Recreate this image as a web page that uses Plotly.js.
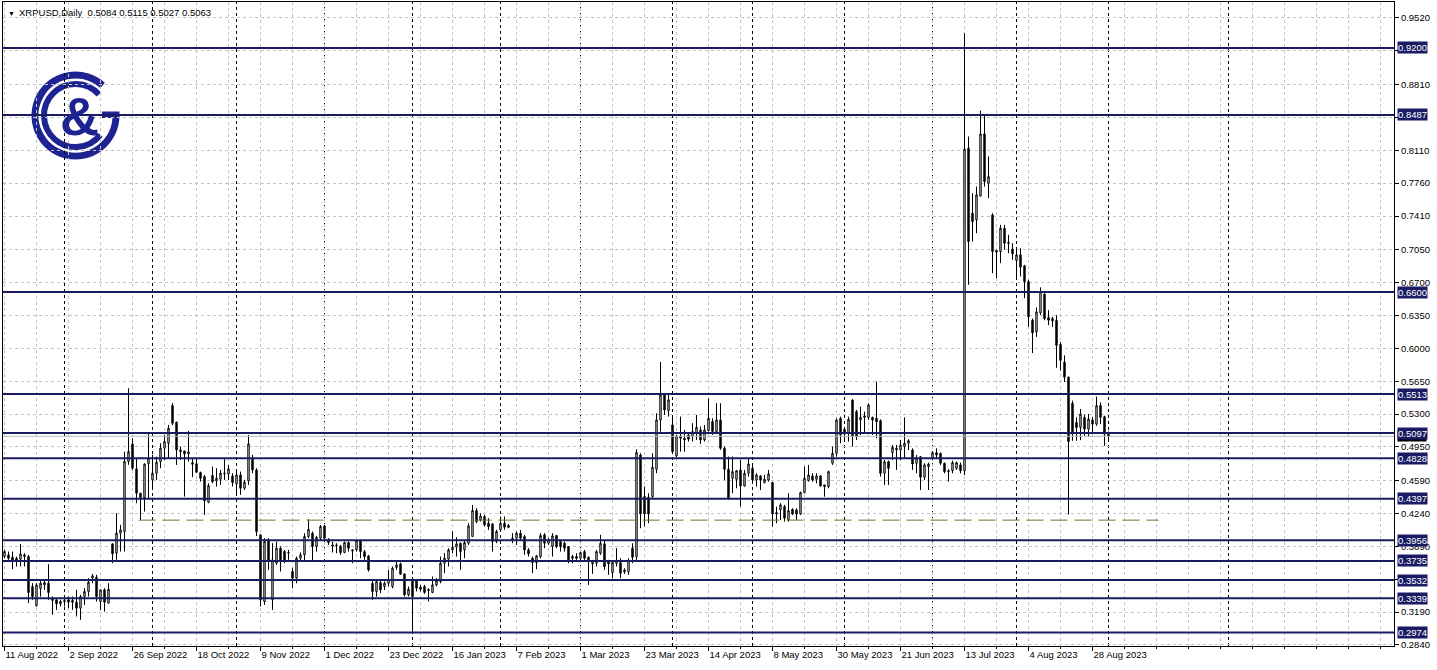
<!DOCTYPE html>
<html>
<head>
<meta charset="utf-8">
<script src="https://cdn.plot.ly/plotly-3.0.1.min.js"></script>
<style>
html,body{margin:0;padding:0;background:#ffffff;}
#chart{width:1437px;height:670px;}
</style>
</head>
<body>
<div id="chart"></div>
<script>
// ---------- DATA ----------
const symbolTitle = 'XRPUSD,Daily  0.5084 0.5115 0.5027 0.5063';
const firstDate = '2022-08-11';   // first daily bar (weekdays only)

const open = [
.3782,.3800,.3775,.3764,.3754,.3782,.3782,.3463,.3257,.3441,
.3480,.3498,.3338,.3321,.3278,.3314,.3321,.3314,.3296,.3232,
.3356,.3410,.3552,.3562,.3303,.3427,.3285,.3917,.3818,.4031,
.4049,.4794,.4982,.4716,.4457,.4410,.4770,.4599,.4670,.4794,
.4936,.4989,.5390,.5213,.4918,.4907,.4876,.4783,.4770,.4677,
.4634,.4361,.4645,.4588,.4606,.4670,.4663,.4641,.4556,.4652,
.4510,.4588,.4830,.4705,.4013,.3303,.3960,.3321,.3711,.3871,
.3835,.3818,.3622,.3552,.3764,.3800,.3995,.4031,.3889,.3977,
.4109,.3967,.3906,.3906,.3889,.3825,.3931,.3853,.3853,.3953,
.3835,.3789,.3498,.3410,.3505,.3463,.3498,.3463,.3665,.3704,
.3597,.3374,.3541,.3527,.3456,.3463,.3420,.3399,.3480,.3516,
.3711,.3754,.3853,.3882,.3924,.3853,.3924,.3995,.4272,.4173,
.4208,.4137,.4130,.3942,.4066,.4137,.4112,.3977,.3977,.4031,
.3995,.3853,.3764,.3718,.3782,.4013,.3924,.3889,.4006,.3942,
.3924,.3889,.3782,.3782,.3764,.3835,.3775,.3704,.3711,.3818,
.3917,.3740,.3612,.3711,.3718,.3640,.3622,.3871,.3782,.4865,
.4421,.4414,.4421,.4712,.5238,.5504,.5337,.5184,.4854,.5067,
.5042,.5078,.5060,.5103,.5131,.5025,.5124,.5220,.5113,.5238,
.4936,.4712,.4616,.4605,.4705,.4534,.4669,.4722,.4598,.4641,
.4570,.4598,.4570,.4250,.4278,.4314,.4172,.4285,.4278,.4236,
.4463,.4591,.4641,.4605,.4641,.4545,.4527,.4776,.4882,.5255,
.5138,.5095,.5450,.5326,.5237,.5265,.5265,.5265,.5255,.5230,
.4669,.4793,.4889,.4917,.4917,.4953,.4989,.4917,.4776,.4846,
.4627,.4740,.4829,.4889,.4882,.4776,.4697,.4697,.4722,.4758,
.4697,.8132,.7440,.7369,.7624,.8285,.7759,.7422,.7043,.7032,
.7280,.7128,.7057,.6936,.6996,.6880,.6711,.6300,.6175,.6378,
.6579,.6329,.6318,.6300,.6043,.5854,.5693,.5415,.5211,.5158,
.5265,.5140,.5236,.5193,.5390,.5272,.5084];

const high = [
.3853,.3835,.3835,.3782,.3917,.3818,.3800,.3498,.3498,.3534,
.3534,.3700,.3356,.3328,.3321,.3338,.3356,.3356,.3427,.3374,
.3445,.3552,.3597,.3587,.3427,.3445,.3498,.3924,.4244,.4119,
.4900,.5575,.5042,.4830,.4457,.4776,.5096,.4865,.4847,.4989,
.5078,.5184,.5415,.5220,.4954,.4907,.5120,.4830,.4830,.4687,
.4652,.4563,.4741,.4723,.4705,.4819,.4758,.4670,.4705,.4687,
.4599,.5078,.4865,.4723,.4013,.3977,.3977,.3924,.3942,.3889,
.3853,.3853,.3658,.3782,.3825,.4031,.4180,.4049,.4002,.4119,
.4119,.3977,.3942,.3924,.3906,.3942,.3942,.3860,.3960,.3960,
.3853,.3800,.3534,.3534,.3527,.3516,.3640,.3676,.3729,.3718,
.3605,.3463,.3552,.3541,.3480,.3480,.3445,.3569,.3552,.3782,
.3818,.3871,.4049,.3987,.3931,.3960,.4137,.4332,.4297,.4244,
.4226,.4190,.4137,.4066,.4208,.4208,.4130,.4031,.4049,.4066,
.4013,.3871,.3782,.3800,.4031,.4031,.3977,.4031,.4013,.3960,
.3942,.3889,.3800,.3818,.3835,.3853,.3782,.3747,.3853,.4013,
.3960,.3747,.3729,.3871,.3764,.3658,.3764,.3924,.4925,.4883,
.4528,.4457,.4883,.5309,.5855,.5522,.5504,.5273,.5078,.5273,
.5131,.5096,.5202,.5291,.5167,.5184,.5468,.5255,.5415,.5415,
.4954,.4847,.4847,.4705,.4811,.4705,.4829,.4776,.4669,.4651,
.4651,.4705,.4580,.4314,.4350,.4332,.4456,.4296,.4296,.4474,
.4740,.4758,.4669,.4669,.4651,.4545,.4697,.4953,.5255,.5272,
.5159,.5272,.5457,.5344,.5379,.5326,.5414,.5272,.5645,.5244,
.4811,.4804,.4971,.4971,.5024,.5265,.5031,.4935,.4864,.4854,
.4776,.4783,.4900,.4935,.4889,.4783,.4712,.4804,.4793,.4783,
.9357,.8257,.7653,.7724,.8533,.8487,.8044,.7440,.7050,.7316,
.7316,.7209,.7120,.7067,.7067,.6889,.6729,.6318,.6436,.6650,
.6586,.6407,.6336,.6354,.6068,.5925,.5700,.5443,.5265,.5354,
.5293,.5300,.5265,.5486,.5425,.5283,.5115];

const low = [
.3764,.3747,.3647,.3676,.3676,.3676,.3285,.3321,.3250,.3356,
.3427,.3321,.3161,.3214,.3250,.3250,.3232,.3214,.3143,.3108,
.3267,.3356,.3498,.3303,.3214,.3196,.3285,.3711,.3747,.3835,
.3835,.4759,.4705,.4350,.4173,.4261,.4403,.4510,.4599,.4723,
.4812,.4829,.5184,.4758,.4812,.4421,.4794,.4627,.4677,.4581,
.4226,.4350,.4563,.4528,.4545,.4599,.4599,.4528,.4439,.4439,
.4492,.4545,.4670,.4000,.3250,.3267,.3640,.3214,.3693,.3622,
.3711,.3747,.3445,.3498,.3729,.3729,.3977,.3729,.3835,.3960,
.3942,.3906,.3825,.3818,.3800,.3818,.3835,.3711,.3835,.3764,
.3747,.3622,.3321,.3356,.3392,.3427,.3463,.3445,.3640,.3587,
.3356,.3356,.2966,.3410,.3410,.3385,.3303,.3392,.3463,.3498,
.3605,.3676,.3818,.3782,.3640,.3764,.3906,.3995,.4137,.4155,
.4102,.4066,.3835,.3924,.4049,.4066,.4084,.3924,.3906,.3960,
.3800,.3782,.3605,.3647,.3764,.3871,.3906,.3782,.3871,.3835,
.3835,.3711,.3711,.3747,.3729,.3747,.3480,.3597,.3676,.3800,
.3640,.3587,.3552,.3676,.3552,.3597,.3587,.3711,.3747,.4084,
.4102,.4137,.4403,.4670,.5113,.5291,.5273,.4883,.4840,.4900,
.4900,.5007,.5007,.5025,.4982,.5007,.5113,.5078,.5096,.4918,
.4599,.4386,.4456,.4509,.4314,.4527,.4634,.4580,.4527,.4491,
.4562,.4580,.4101,.4137,.4172,.4154,.4154,.4225,.4172,.4225,
.4456,.4580,.4580,.4562,.4527,.4420,.4509,.4758,.4846,.4989,
.5024,.5006,.4953,.5024,.5077,.5095,.5237,.5077,.5042,.4634,
.4545,.4545,.4811,.4705,.4811,.4829,.4917,.4705,.4669,.4491,
.4598,.4491,.4811,.4829,.4758,.4669,.4580,.4669,.4705,.4669,
.4650,.6677,.7138,.7227,.7618,.7724,.7600,.6801,.6748,.6908,
.7050,.7014,.6943,.6730,.6766,.6535,.6229,.5950,.6122,.6354,
.6300,.6247,.6229,.5793,.5765,.5640,.4230,.5015,.5015,.5022,
.5068,.5058,.5104,.5175,.5193,.4961,.5027];

const close = [
.3835,.3764,.3740,.3740,.3810,.3800,.3399,.3356,.3480,.3498,
.3505,.3399,.3314,.3278,.3303,.3303,.3296,.3296,.3232,.3356,
.3410,.3509,.3576,.3356,.3427,.3296,.3434,.3811,.4031,.4066,
.4794,.4900,.4723,.4457,.4410,.4765,.4830,.4670,.4787,.4936,
.5007,.5149,.5202,.4918,.4900,.4876,.4897,.4765,.4680,.4616,
.4375,.4538,.4581,.4616,.4670,.4663,.4716,.4570,.4652,.4510,
.4574,.4982,.4705,.4048,.3321,.3942,.3729,.3747,.3871,.3729,
.3747,.3825,.3552,.3764,.3800,.3995,.4073,.3889,.3988,.4102,
.3977,.3931,.3896,.3899,.3825,.3931,.3871,.3842,.3953,.3835,
.3782,.3640,.3410,.3516,.3427,.3498,.3541,.3658,.3693,.3594,
.3374,.3434,.3356,.3445,.3434,.3399,.3431,.3480,.3527,.3711,
.3764,.3853,.3882,.3917,.3835,.3931,.4109,.4272,.4155,.4215,
.4119,.4102,.3942,.4049,.4137,.4094,.4094,.3960,.4031,.3977,
.3853,.3811,.3718,.3789,.4006,.3924,.3960,.4002,.3889,.3889,
.3871,.3729,.3764,.3764,.3825,.3764,.3729,.3718,.3835,.3924,
.3676,.3704,.3718,.3740,.3605,.3622,.3740,.3775,.4890,.4237,
.4237,.4237,.4733,.5238,.5504,.5344,.5451,.4900,.5067,.5042,
.5025,.5032,.5113,.5159,.5025,.5131,.5255,.5113,.5238,.4936,
.4712,.4403,.4687,.4697,.4534,.4669,.4768,.4598,.4651,.4598,
.4605,.4662,.4236,.4236,.4332,.4190,.4271,.4236,.4236,.4463,
.4616,.4651,.4598,.4641,.4534,.4527,.4687,.4882,.5237,.5077,
.5088,.5244,.5060,.5060,.5265,.5280,.5397,.5237,.5219,.4669,
.4793,.4722,.4946,.4935,.4971,.4989,.5017,.4768,.4829,.4627,
.4758,.4768,.4889,.4864,.4776,.4687,.4687,.4783,.4783,.4697,
.8122,.7138,.7351,.7635,.8285,.7777,.7830,.7032,.7025,.7280,
.7120,.7120,.7007,.6996,.6865,.6712,.6336,.6164,.6389,.6604,
.6318,.6300,.6293,.6032,.5872,.5693,.5008,.5086,.5158,.5300,
.5140,.5247,.5193,.5390,.5265,.5086,.5063];

// horizontal support / resistance levels (price)
const levels = [0.9200, 0.8487, 0.6600, 0.5513, 0.5097, 0.4828, 0.4397, 0.3956, 0.3735, 0.3532, 0.3339, 0.2974];
const bidPrice = 0.5063;
const greenLevel = 0.4170;

// price scale ticks (labels hidden under level boxes left empty)
const yTickVals = [0.9520, 0.9170, 0.8810, 0.8460, 0.8110, 0.7760, 0.7410, 0.7050, 0.6700, 0.6350, 0.6000,
                   0.5650, 0.5300, 0.4950, 0.4590, 0.4240, 0.3890, 0.3540, 0.3190, 0.2840];
const yTickText = ['0.9520','','0.8810','','0.8110','0.7760','0.7410','0.7050','0.6700','0.6350','0.6000',
                   '0.5650','0.5300','0.4950','0.4590','0.4240','0.3890','','0.3190','0.2840'];

// time scale labels
const xTickDates = ['2022-08-11','2022-09-02','2022-09-26','2022-10-18','2022-11-09','2022-12-01','2022-12-23',
                    '2023-01-16','2023-02-07','2023-03-01','2023-03-23','2023-04-14','2023-05-08','2023-05-30',
                    '2023-06-21','2023-07-13','2023-08-04','2023-08-28'];
const xTickLabels = ['11 Aug 2022','2 Sep 2022','26 Sep 2022','18 Oct 2022','9 Nov 2022','1 Dec 2022','23 Dec 2022',
                     '16 Jan 2023','7 Feb 2023','1 Mar 2023','23 Mar 2023','14 Apr 2023','8 May 2023','30 May 2023',
                     '21 Jun 2023','13 Jul 2023','4 Aug 2023','28 Aug 2023'];

// ---------- BUILD ----------
const dates = [];
(function(){
  const d = new Date(firstDate + 'T00:00:00Z');
  while (dates.length < close.length) {
    const wd = d.getUTCDay();
    if (wd !== 0 && wd !== 6) dates.push(d.toISOString().slice(0,10));
    d.setUTCDate(d.getUTCDate() + 1);
  }
})();
const idx = dates.map((_, i) => i);
const xTickIdx = xTickDates.map(s => dates.indexOf(s));

const sepIdx = [];
for (let i = 1; i < dates.length; i++) if (dates[i].slice(0,7) !== dates[i-1].slice(0,7)) sepIdx.push(i);
sepIdx.push(306);

const NAVY = '#1b1b64';
const LOGO = '#1d2491';
const FONT = 'Liberation Sans, Arial, sans-serif';

const shapes = [];
sepIdx.forEach(i => shapes.push({
  type:'line', xref:'x', yref:'paper', x0:i, x1:i, y0:0, y1:1,
  line:{color:'#000000', width:1, dash:'3px,3px'}, layer:'below'
}));
shapes.push({type:'line', xref:'x', yref:'y', x0:33.5, x1:288.5, y0:greenLevel, y1:greenLevel,
  line:{color:'#5a7f2a', width:1, dash:'17px,7px'}, layer:'above'});
shapes.push({type:'line', xref:'paper', yref:'y', x0:0, x1:1, y0:bidPrice, y1:bidPrice,
  line:{color:'#b4bcb4', width:1}, layer:'above'});
levels.forEach(v => shapes.push({
  type:'line', xref:'paper', yref:'y', x0:0, x1:1, y0:v, y1:v,
  line:{color:NAVY, width:2}, layer:'above'
}));

const annotations = [];
annotations.push({xref:'paper', yref:'paper', x:0, y:1, xanchor:'left', yanchor:'top', xshift:3, yshift:-6,
  text:'▼', showarrow:false, font:{size:7, color:'#000'}});
annotations.push({xref:'paper', yref:'paper', x:0, y:1, xanchor:'left', yanchor:'top', xshift:14, yshift:-3,
  text:symbolTitle.replace('  ', '&nbsp;&nbsp;'), showarrow:false,
  font:{family:FONT, size:9.5, color:'#000'}});
annotations.push({xref:'paper', yref:'y', x:1, y:bidPrice, xanchor:'left', yanchor:'middle', xshift:3,
  text:bidPrice.toFixed(4), showarrow:false, bgcolor:'#000000', borderpad:0,
  font:{family:FONT, size:9, color:'#ffffff'}});
levels.forEach(v => annotations.push({
  xref:'paper', yref:'y', x:1, y:v, xanchor:'left', yanchor:'middle', xshift:3,
  text:v.toFixed(4), showarrow:false, bgcolor:NAVY, borderpad:0,
  font:{family:FONT, size:9.5, color:'#ffffff'}
}));
annotations.push({xref:'paper', yref:'paper', x:(79-3)/1391, y:1-(116-2)/644, xanchor:'center', yanchor:'middle',
  text:'<b>&amp;</b>', showarrow:false, font:{family:FONT, size:54, color:LOGO}});

const cx = 75.5, cy = 115.5;
function arcPath(r, a0, a1){
  const p0 = [cx + r*Math.cos(a0*Math.PI/180), cy + r*Math.sin(a0*Math.PI/180)];
  const p1 = [cx + r*Math.cos(a1*Math.PI/180), cy + r*Math.sin(a1*Math.PI/180)];
  return 'M' + p0[0].toFixed(2) + ' ' + p0[1].toFixed(2) + ' A' + r + ' ' + r + ' 0 1 0 ' + p1[0].toFixed(2) + ' ' + p1[1].toFixed(2);
}
const svg = '<svg xmlns="http://www.w3.org/2000/svg" width="100" height="100" viewBox="26 66 100 100">' +
  '<path d="' + arcPath(40.5, -48, 0) + '" fill="none" stroke="' + LOGO + '" stroke-width="7"/>' +
  '<path d="' + arcPath(31.5, -42, 38) + '" fill="none" stroke="' + LOGO + '" stroke-width="6"/>' +
  '<rect x="102" y="111.5" width="17.5" height="6.5" fill="' + LOGO + '"/>' +
  '</svg>';
const images = [{
  source: 'data:image/svg+xml;base64,' + btoa(svg),
  xref:'paper', yref:'paper', x:(26-3)/1391, y:1-(66-2)/644, sizex:100/1391, sizey:100/644,
  xanchor:'left', yanchor:'top', sizing:'stretch', layer:'below'
}];

const trace = {
  type:'candlestick', x:idx, open:open, high:high, low:low, close:close,
  increasing:{line:{color:'#000000', width:1}, fillcolor:'#ffffff'},
  decreasing:{line:{color:'#000000', width:1}, fillcolor:'#000000'},
  whiskerwidth:0, hoverinfo:'skip', showlegend:false
};

const GRID = '#c4c4c4';
const layout = {
  width:1437, height:670,
  margin:{l:3, r:43, t:2, b:24, pad:0},
  paper_bgcolor:'#ffffff', plot_bgcolor:'#ffffff',
  showlegend:false, boxgap:0.5,
  font:{family:FONT, size:9.5, color:'#000'},
  xaxis:{
    type:'linear', range:[-0.375, 347.375], fixedrange:true,
    tickmode:'array', tickvals:xTickIdx, ticktext:xTickLabels,
    ticks:'outside', ticklen:4, tickcolor:'#000', tickwidth:1,
    ticklabelposition:'outside right',
    tickfont:{family:FONT, size:9.5, color:'#000'},
    showgrid:true, gridcolor:GRID, griddash:'3px,3px', gridwidth:1,
    minor:{tickmode:'linear', tick0:0, dtick:8, showgrid:true, gridcolor:GRID, griddash:'3px,3px', gridwidth:1,
           ticks:'outside', ticklen:2, tickcolor:'#000'},
    showline:true, linecolor:'#000', linewidth:1, mirror:true,
    zeroline:false, rangeslider:{visible:false}
  },
  yaxis:{
    side:'right', range:[0.2829, 0.9690], fixedrange:true,
    tickmode:'array', tickvals:yTickVals, ticktext:yTickText,
    ticks:'outside', ticklen:4, tickcolor:'#000', tickwidth:1,
    tickfont:{family:FONT, size:9.5, color:'#000'},
    showgrid:true, gridcolor:GRID, griddash:'3px,3px', gridwidth:1,
    showline:true, linecolor:'#000', linewidth:1, mirror:true,
    zeroline:false
  },
  shapes:shapes, annotations:annotations, images:images
};

Plotly.newPlot('chart', [trace], layout, {staticPlot:true, displayModeBar:false});
</script>
</body>
</html>
